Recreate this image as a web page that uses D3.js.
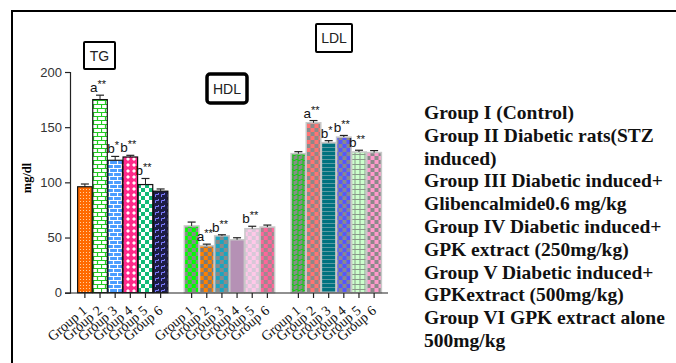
<!DOCTYPE html>
<html>
<head>
<meta charset="utf-8">
<script src="https://cdn.jsdelivr.net/npm/d3@7"></script>
<style>
  body { margin: 0; background: #fff; }
  svg { display: block; }
</style>
</head>
<body>
<div id="chart"></div>
<script>

//****************************************************************************************************************************//
// Data

var params = ["TG", "HDL", "LDL"];
var groups = ["Group 1", "Group 2", "Group 3", "Group 4", "Group 5", "Group 6"];

var tgValues  = [96, 175, 120, 123, 98, 92];
var tgErrors  = [2.5, 4, 3.5, 1.5, 5.5, 2];
var hdlValues = [60.5, 42.5, 51.5, 48, 58, 59.5];
var hdlErrors = [3.5, 1.5, 1, 1.8, 2.2, 1.8];
var ldlValues = [126, 154, 136, 141, 127.5, 127];
var ldlErrors = [1.8, 2, 1.8, 1.5, 1.6, 1.8];

var tgSig  = ["", "a**", "b*", "b**", "b**", ""];
var hdlSig = ["", "a**", "b**", "", "b**", ""];
var ldlSig = ["", "a**", "b*", "b**", "b**", ""];

var yTicks = [0, 50, 100, 150, 200];

var legendLines = [
	"Group I (Control)",
	"Group II  Diabetic rats(STZ",
	"induced)",
	"Group III Diabetic induced+",
	"Glibencalmide0.6 mg/kg",
	"Group IV Diabetic induced+",
	"GPK extract (250mg/kg)",
	"Group V Diabetic induced+",
	"GPKextract (500mg/kg)",
	"Group VI GPK extract alone",
	"500mg/kg"
];

var series = [
	{ key : "TG",  values : tgValues,  errors : tgErrors,  sig : tgSig },
	{ key : "HDL", values : hdlValues, errors : hdlErrors, sig : hdlSig },
	{ key : "LDL", values : ldlValues, errors : ldlErrors, sig : ldlSig }
];

//****************************************************************************************************************************//
// Canvas

var width = 676, height = 363;

var canvas = d3.select("#chart").append("svg")
				.attr("width", width)
				.attr("height", height);

canvas.append("rect")
		.attr("width", width)
		.attr("height", height)
		.attr("fill", "white");

// frame (top and left edges only visible)
canvas.append("path")
		.attr("d", "M12,363 V11 H676")
		.attr("fill", "none")
		.attr("stroke", "black")
		.attr("stroke-width", 2);

//****************************************************************************************************************************//
// Patterns

var defs = canvas.append("defs");

function pattern(id, size, bg, draw){
	var p = defs.append("pattern")
				.attr("id", id)
				.attr("patternUnits", "userSpaceOnUse")
				.attr("width", size)
				.attr("height", size);
	p.append("rect").attr("width", size).attr("height", size).attr("fill", bg);
	draw(p);
}

function checker(id, size, a, b){
	pattern(id, size*2, a, function(p){
		p.append("rect").attr("x", size).attr("y", 0).attr("width", size).attr("height", size).attr("fill", b);
		p.append("rect").attr("x", 0).attr("y", size).attr("width", size).attr("height", size).attr("fill", b);
	});
}

function brick(id, bg, line){
	pattern(id, 8, bg, function(p){
		p.append("path")
			.attr("d", "M0,0.5 H8 M0,4.5 H8 M0.5,0 V4 M4.5,4 V8")
			.attr("stroke", line)
			.attr("stroke-width", 1.2)
			.attr("fill", "none");
	});
}

// TG
pattern("tg1", 3, "#ff6a00", function(p){
	p.append("rect").attr("width", 1).attr("height", 1).attr("fill", "#ffd0a0");
});
brick("tg2", "white", "#22cc22");
brick("tg3", "#4a9dff", "white");
pattern("tg4", 6, "#ff2a8a", function(p){
	p.append("path").attr("d", "M3,1 L5,3 L3,5 L1,3 Z").attr("fill", "white");
});
checker("tg5", 4, "white", "#11bb77");
pattern("tg6", 6, "#1c1c44", function(p){
	p.append("path").attr("d", "M0.5,5 V2.5 H3.5 V1").attr("stroke", "#7b7bff").attr("stroke-width", 1).attr("fill", "none");
});

// HDL
checker("hdl1", 4, "#8a8a8a", "#00ff00");
checker("hdl2", 4, "#7a7a7a", "#ff8000");
checker("hdl3", 4, "#8a8a8a", "#1aa5c0");
pattern("hdl4", 4, "#b591b5", function(p){});
checker("hdl5", 4, "#d8c8d8", "#ffc8e8");
checker("hdl6", 4, "#a08890", "#ff6699");

// LDL
pattern("ldl1", 5, "#8a8a8a", function(p){
	p.append("path").attr("d", "M0,4.5 H2.5 V0.5 H5").attr("stroke", "#11cc11").attr("stroke-width", 1.2).attr("fill", "none");
});
checker("ldl2", 4, "#8a8a8a", "#ff7373");
pattern("ldl3", 4, "#00727f", function(p){
	p.append("rect").attr("y", 3).attr("width", 4).attr("height", 1).attr("fill", "#5a9aa2");
});
checker("ldl4", 4, "#8a8a8a", "#5555ff");
pattern("ldl5", 5, "#ccffcc", function(p){
	p.append("path").attr("d", "M0,4.5 H5 M4.5,0 V5").attr("stroke", "#8a9a8a").attr("stroke-width", 1).attr("fill", "none");
});
checker("ldl6", 4, "#8a8a8a", "#ff9acb");

//****************************************************************************************************************************//
// Scales

var y = d3.scaleLinear().domain([0, 200]).range([292.7, 72]);

var xOuter = d3.scaleBand().domain(params).range([77, 382]).paddingInner(1/7).paddingOuter(0);
var xInner = d3.scaleBand().domain(groups).range([0, xOuter.bandwidth()]).padding(0.04);

//****************************************************************************************************************************//
// Y Axis

var yAxis = canvas.append("g")
				.attr("transform", "translate(70,0)")
				.call(d3.axisLeft(y).tickValues(yTicks).tickSize(5).tickPadding(3));

yAxis.select(".domain").attr("stroke", "#222").attr("stroke-width", 1.2);
yAxis.selectAll(".tick line").attr("stroke", "#222").attr("stroke-width", 1.2);
yAxis.selectAll(".tick text")
		.style("font-family", "'Liberation Sans', Arial, sans-serif")
		.style("font-size", "13px")
		.attr("fill", "#333");

canvas.append("text")
		.attr("transform", "translate(31,178) rotate(-90)")
		.attr("text-anchor", "middle")
		.style("font-family", "'Liberation Serif', 'Times New Roman', serif")
		.style("font-weight", "bold")
		.style("font-size", "12.5px")
		.text("mg/dl");

//****************************************************************************************************************************//
// Bars

series.forEach(function(s){
	var g = canvas.append("g").attr("transform", "translate(" + xOuter(s.key) + ",0)");
	var isTG = s.key === "TG";

	g.selectAll("rect.bar")
		.data(s.values)
		.enter().append("rect")
		.attr("class", "bar")
		.attr("x", function(d, i){ return xInner(groups[i]); })
		.attr("y", function(d){ return y(d); })
		.attr("width", xInner.bandwidth())
		.attr("height", function(d){ return y(0) - y(d); })
		.attr("fill", function(d, i){ return "url(#" + s.key.toLowerCase() + (i+1) + ")"; })
		.attr("stroke", isTG ? "#111" : "#c8c8c8")
		.attr("stroke-width", isTG ? 1.2 : 1.5);

	// error bars
	var eb = g.selectAll("g.err")
		.data(s.values)
		.enter().append("g")
		.attr("class", "err")
		.attr("transform", function(d, i){ return "translate(" + (xInner(groups[i]) + xInner.bandwidth()/2) + ",0)"; });

	eb.append("line")
		.attr("x1", 0).attr("x2", 0)
		.attr("y1", function(d){ return y(d); })
		.attr("y2", function(d, i){ return y(d + s.errors[i]); })
		.attr("stroke", "#222");

	eb.append("line")
		.attr("x1", -4).attr("x2", 4)
		.attr("y1", function(d, i){ return y(d + s.errors[i]); })
		.attr("y2", function(d, i){ return y(d + s.errors[i]); })
		.attr("stroke", "#222")
		.attr("stroke-width", 1.2);

	// significance labels
	var sig = eb.filter(function(d, i){ return s.sig[i] !== ""; })
				.append("text")
				.attr("x", -2)
				.attr("y", function(d){ var i = s.values.indexOf(d); return y(d + s.errors[i]) - 3; })
				.attr("text-anchor", "middle")
				.style("font-family", "'Liberation Sans', Arial, sans-serif")
				.style("font-size", "13.5px")
				.attr("fill", "#111");

	sig.append("tspan")
		.text(function(d){ return s.sig[s.values.indexOf(d)].charAt(0); });
	sig.append("tspan")
		.attr("dy", -4)
		.style("font-size", "11px")
		.text(function(d){ return s.sig[s.values.indexOf(d)].slice(1); });

	// x axis ticks
	var xa = canvas.append("g")
				.attr("transform", "translate(" + xOuter(s.key) + ",293)")
				.call(d3.axisBottom(xInner).tickSize(5).tickPadding(2));
	xa.select(".domain").remove();
	xa.selectAll(".tick line").attr("stroke", "#222").attr("stroke-width", 1.2);
	xa.selectAll(".tick text")
		.attr("x", 0)
		.attr("y", 0)
		.attr("dy", 0)
		.attr("text-anchor", "end")
		.attr("transform", "translate(3,19) rotate(-40)")
		.style("font-family", "'Liberation Serif', 'Times New Roman', serif")
		.style("font-size", "14px")
		.attr("fill", "#111");
});

// x axis line
canvas.append("line")
		.attr("x1", 70).attr("x2", 388)
		.attr("y1", 293).attr("y2", 293)
		.attr("stroke", "#222")
		.attr("stroke-width", 1.2);

//****************************************************************************************************************************//
// Parameter Labels

function boxLabel(txt, x, yy, w, h, sw, r){
	canvas.append("rect")
		.attr("x", x).attr("y", yy)
		.attr("width", w).attr("height", h)
		.attr("rx", r).attr("ry", r)
		.attr("fill", "white")
		.attr("stroke", "black")
		.attr("stroke-width", sw);
	canvas.append("text")
		.attr("x", x + w/2).attr("y", yy + h/2 + 5)
		.attr("text-anchor", "middle")
		.style("font-family", "'Liberation Sans', Arial, sans-serif")
		.style("font-size", "14px")
		.attr("fill", "#222")
		.text(txt);
}

boxLabel("TG", 84, 42, 31, 27, 2, 1);
boxLabel("HDL", 207, 74, 40, 29, 3.5, 3);
boxLabel("LDL", 316, 24, 36, 28, 2, 1);

//****************************************************************************************************************************//
// Legend Text

canvas.append("g")
		.selectAll("text")
		.data(legendLines)
		.enter().append("text")
		.attr("x", 424)
		.attr("y", function(d, i){ return 119 + i*22.8; })
		.style("font-family", "'Liberation Serif', 'Times New Roman', serif")
		.style("font-weight", "bold")
		.style("font-size", "19.5px")
		.attr("fill", "#111")
		.text(function(d){ return d; });

</script>
</body>
</html>
